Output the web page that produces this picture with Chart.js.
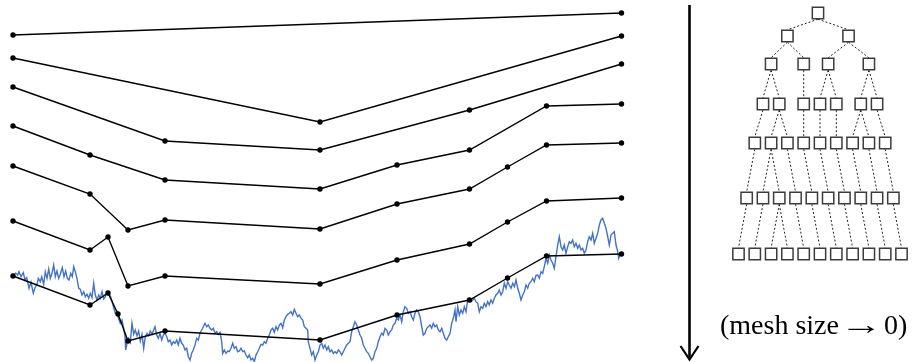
<!DOCTYPE html>
<html>
<head>
<meta charset="utf-8">
<script src="https://cdn.jsdelivr.net/npm/chart.js@4/dist/chart.umd.min.js"></script>
<style>
  html, body { margin: 0; padding: 0; background: #fff; }
  #wrap { position: relative; width: 918px; height: 362px; overflow: hidden; }
  #chart { position: absolute; left: 0; top: 0; }
  #caption {
    position: absolute; left: 720px; top: 309px;
    font-family: "Liberation Serif", "Times New Roman", serif;
    font-size: 28px; line-height: normal; color: #000; white-space: nowrap;
  }
  #caption .arrow { display: inline-block; width: 45px; text-align: center; }
  #caption .arrow span { display: inline-block; transform: scaleX(1.55); transform-origin: 50% 50%; }
</style>
</head>
<body>
<div id="wrap">
  <canvas id="chart" width="918" height="362"></canvas>
  <div id="caption">(mesh size<span class="arrow"><span>→</span></span>0)</div>
</div>
<script>
// Knot times shared by all refinement levels (time steps)
const knotTimes = [0, 77, 95, 105, 115, 152, 307, 384, 456.5, 494.5, 533.5, 608.5];

// Values of each piecewise-linear approximation at the knots (null = not a knot at this level)
const level0 = [24.1, null, null, null, null, null, null, null, null, null, null, 26.3];
const level1 = [21.8, null, null, null, null, null, 15.4, null, null, null, null, 24.0];
const level2 = [18.9, null, null, null, null, 13.5, 12.6, null, 16.6, null, null, 21.2];
const level3 = [15.0, 12.1, null, null, null, 9.6, 8.7, 11.1, 12.6, null, 17.0, 17.2];
const level4 = [11.0, 8.2, null, null, 4.6, 5.6, 4.7, 7.2, 8.7, 10.9, 13.1, 13.3];
const level5 = [5.5, 2.6, 3.9, null, -1.0, 0.0, -0.8, 1.6, 3.2, 5.4, 7.5, 7.8];
const level6 = [0.0, -2.9, -1.7, -3.8, -6.5, -5.5, -6.4, -3.9, -2.4, -0.2, 2.0, 2.2];
const levels = [level0, level1, level2, level3, level4, level5, level6];

// Sampled Brownian path [time step, value]
const pathSamples = [
  [0,0],[2.7,0.27],[4.7,0.1],[6,0.43],[8,-0.07],[10.3,0.33],[12,-0.4],[13.7,-0.17],[16,-1.23],[18,-0.63],
  [20.3,-1.73],[22,-1.17],[24,-0.83],[25.3,-0.23],[27.3,-0.57],[28.7,-0.07],[30.7,-0.83],[32.3,0.43],[34,-0.23],[35.7,0.7],
  [37.3,-0.23],[39,0.27],[40.7,1.1],[42.3,-0.07],[44,0.5],[45.7,-0.23],[47.3,0.17],[49.3,0.83],[51,-0.07],[52.7,0.5],
  [54.3,-0.23],[56,-0.4],[57.7,0.27],[59.3,-0.07],[60.7,0.93],[62.3,0.43],[64,-0.23],[65.7,-1.23],[67.3,-1.33],[69,-1.9],
  [70.7,-1.57],[72.3,-2.07],[74,-1.83],[75.7,-2.23],[77.3,-1.73],[79,-2.17],[80.7,-0.73],[82.3,-1.9],[84,-2.4],[85.7,-1.9],
  [87.3,-2.23],[89,-1.57],[90.7,-2.3],[92.3,-2.07],[94,-1.57],[95.7,-1.73],[97.3,-1.97],[99,-2.5],[100.7,-3.17],[102.3,-3.73],
  [104,-3.57],[105.7,-4.3],[107.3,-4.73],[109,-4.4],[110.7,-5.23],[112,-6.07],[112.7,-7.4],[114,-6.73],[115.7,-6.23],[117.3,-6.63],
  [119,-4.73],[120.7,-5.83],[122.3,-5.4],[124,-5.97],[125.7,-5.5],[127.3,-6.5],[129,-5.83],[130.7,-7.23],[132.3,-6.07],[134,-5.73],
  [135.7,-5.97],[137.3,-5.5],[139,-5.83],[140.7,-5.4],[142,-5.07],[143.7,-5.9],[145.3,-6.23],[147,-5.73],[148.7,-6.4],[150.3,-5.9],
  [152,-5.73],[153.7,-6.07],[155.3,-6.57],[157,-6.4],[158.7,-6.9],[160.3,-6.57],[162,-6.73],[163.7,-6.4],[165.3,-6.9],[167,-6.23],
  [168.7,-6.73],[170.3,-6.9],[172,-7.4],[173.7,-7.23],[175.3,-8.07],[177,-8.4],[178.7,-7.73],[180.3,-7.4],[182,-6.9],[183.7,-6.23],
  [185.3,-6.4],[187,-5.73],[188.7,-5.4],[190.3,-5.07],[192,-4.73],[193.7,-5.07],[195.3,-4.9],[197,-5.23],[198.7,-5.4],[200.3,-5.23],
  [202,-5.73],[203.7,-5.57],[205.3,-5.83],[207,-5.63],[208.7,-6.57],[209.7,-7.73],[211.3,-7.4],[213,-7.73],[214.7,-7.5],[216.3,-7.57],
  [218,-7.23],[219.7,-6.73],[221.3,-7.23],[223,-7.07],[224.7,-7.57],[226.3,-7.5],[228,-7.23],[229.7,-7.57],[231.3,-7.5],[233,-7.9],
  [234.7,-8.17],[236.3,-7.9],[238,-8.4],[239.7,-8.23],[241.3,-8.57],[243,-7.9],[244.7,-7.57],[246.3,-7.23],[248,-6.83],[249.7,-6.9],
  [251.3,-6.57],[253,-6.73],[254.7,-6.23],[256.3,-5.9],[258,-5.4],[259.7,-5.23],[261.3,-5.63],[263,-5.07],[264.7,-5.4],[266.3,-4.9],
  [268,-4.73],[269.7,-5.17],[271.3,-4.4],[273,-4.07],[274.7,-3.83],[276.3,-3.73],[278,-3.57],[279.7,-3.9],[281.3,-3.33],[283,-3.73],
  [284.7,-4.07],[286.3,-3.9],[288,-4.23],[289.7,-4.4],[291.3,-5.07],[293,-5.23],[294.7,-5.4],[295.3,-6.57],[297,-7.23],[298.7,-7.9],
  [300.3,-7.57],[302,-8.4],[303.7,-7.9],[305.3,-7.57],[307,-6.9],[308.7,-6.73],[310.3,-7.23],[312,-6.9],[313.7,-7.4],[315.3,-7.07],
  [317,-7.57],[318.7,-7.4],[320.3,-7.73],[322,-7.57],[323.7,-7.73],[325.3,-7.4],[327,-7.57],[328.7,-7.9],[330.3,-7.57],[332,-7.23],
  [333.7,-6.9],[335.3,-6.73],[337,-6.57],[338.7,-5.57],[340.3,-5.07],[342,-4.57],[343.7,-4.9],[345.3,-5.4],[347,-5.9],[348.7,-6.23],
  [350.3,-6.9],[352,-7.23],[353.7,-7.57],[355.3,-7.73],[357,-8.07],[358.7,-8.4],[360.3,-8.23],[362,-7.57],[363.7,-7.23],[365.3,-6.57],
  [367,-6.07],[368.7,-5.73],[370.3,-5.9],[372,-5.23],[373.7,-5.4],[375.3,-5.9],[377,-5.57],[378.7,-5.4],[380.3,-4.9],[382,-4.73],
  [383.7,-4.23],[385.3,-4.4],[387,-3.9],[388.7,-4.57],[390.3,-3.57],[392,-3.07],[393.7,-3.23],[395.3,-3.73],[397,-3.57],[398.7,-4.07],
  [400.3,-4.4],[402,-3.73],[403.7,-3.4],[405.3,-3.57],[407,-4.07],[408.7,-5.07],[410.3,-5.9],[412,-5.73],[413.7,-5.23],[415.3,-5.07],
  [417,-4.9],[418.7,-5.23],[420.3,-4.73],[422,-5.07],[423.7,-4.9],[425.3,-5.4],[427,-5.57],[428.7,-5.23],[430.3,-5.73],[432,-6.23],
  [433.7,-6.4],[435.3,-6.07],[437,-5.73],[438.7,-4.73],[440.3,-4.23],[442,-3.4],[443,-4.57],[444.7,-3.07],[446.3,-3.9],[448,-3.4],
  [449.7,-3.73],[451.3,-3.07],[453,-3.57],[454.7,-2.4],[456.3,-2.23],[458,-2.57],[459.7,-2.4],[461.3,-2.23],[463,-2.57],[464.7,-2.73],
  [466.3,-3.57],[468,-3.07],[469.7,-3.23],[471.3,-2.73],[473,-3.07],[474.7,-2.57],[476.3,-2.9],[478,-2.4],[479.7,-2.73],[481.3,-2.23],
  [483,-1.9],[484.7,-1.73],[486.3,-1.4],[488,-1.9],[489.7,-1.57],[491.3,-0.73],[493,-1.23],[494.7,-0.57],[496.3,-0.9],[498,-1.23],
  [499.7,-0.73],[501.3,-1.07],[503,-0.4],[504.7,-1.23],[506.3,-1.73],[508,-2.4],[509.7,-1.9],[511.3,-1.57],[513,-0.9],[514.7,-1.23],
  [516.3,-0.73],[518,-0.57],[519.7,-0.23],[521.3,-0.57],[523,0.07],[524.7,0.1],[526.3,-0.23],[528,0.43],[529.7,0.27],[531.3,0.93],
  [533,1.77],[534.7,1.27],[536.3,2.1],[538,1.6],[539.7,1.27],[541.3,0.77],[543,1.93],[544.7,3.1],[546.3,3.93],[548,2.93],
  [549.7,2.6],[551.3,3.1],[553,2.27],[554.7,2.93],[556.3,3.43],[558,3.27],[559.7,3.6],[561.3,2.93],[563,3.27],[564.7,2.77],
  [566.3,3.1],[568,2.6],[569.7,2.77],[571.3,2.27],[573,2.6],[574.7,3.43],[576.3,3.93],[578,3.6],[579.7,4.27],[581.3,3.27],
  [583,3.77],[584.7,4.27],[586.3,5.1],[588,5.6],[589.7,5.77],[591.3,5.27],[593,4.77],[594.7,3.93],[596.3,3.1],[598,4.1],
  [599.7,4.27],[601.3,4.43],[603,3.1],[604.7,2.43],[605.7,1.77],[607,2.1]
];

// ---- layout of the refinement tree (one box per knot interval) ----
const TREE_CENTER = 807;    // x of the tree axis, in time-step units
const TREE_PITCH = 16.3;    // spacing between neighbouring boxes
const BOX_HALF = 0.62;      // half box height in value units
const ROW_LAYOUT = ['mean', 'mean', 'mean', 'packed', 'even', 'even', 'even'];

function buildTree() {
  const rows = levels.map(vals => {
    const pts = knotTimes.map((t, i) => ({ t, v: vals[i] })).filter(p => p.v !== null);
    const boxes = [];
    for (let i = 0; i < pts.length - 1; i++) boxes.push({ a: pts[i].t, b: pts[i + 1].t });
    return { y: pts[pts.length - 1].v, boxes };
  });
  for (let k = 1; k < rows.length; k++) {
    rows[k].boxes.forEach(b => {
      b.parent = rows[k - 1].boxes.findIndex(p => b.a >= p.a && b.b <= p.b);
    });
  }
  const last = rows.length - 1;
  for (let k = last; k >= 0; k--) {
    const row = rows[k];
    const n = row.boxes.length;
    const kids = i => (k < last ? rows[k + 1].boxes.filter(c => c.parent === i).map(c => c.x) : []);
    const mode = ROW_LAYOUT[k];
    if (mode === 'even') {
      row.boxes.forEach((b, i) => { b.x = TREE_CENTER + (i - (n - 1) / 2) * TREE_PITCH; });
    } else if (mode === 'mean') {
      row.boxes.forEach((b, i) => { const xs = kids(i); b.x = xs.reduce((s, x) => s + x, 0) / xs.length; });
    } else {
      // siblings sit side by side, centred over the span of their children
      const groups = {};
      row.boxes.forEach((b, i) => { (groups[b.parent] = groups[b.parent] || []).push(i); });
      Object.values(groups).forEach(ids => {
        const xs = ids.flatMap(kids);
        const c = (Math.min(...xs) + Math.max(...xs)) / 2;
        ids.forEach((i, m) => { row.boxes[i].x = c + (m - (ids.length - 1) / 2) * TREE_PITCH; });
      });
    }
  }
  return rows;
}

const tree = buildTree();
const boxPoints = [];
const edgePoints = [];
tree.forEach((row, k) => {
  row.boxes.forEach(b => {
    boxPoints.push({ x: b.x, y: row.y });
    if (k > 0) {
      const parentRow = tree[k - 1];
      const p = parentRow.boxes[b.parent];
      edgePoints.push({ x: p.x, y: parentRow.y - BOX_HALF });
      edgePoints.push({ x: b.x, y: row.y + BOX_HALF });
      edgePoints.push({ x: b.x, y: null });
    }
  });
});

// downward arrow between the paths and the tree
const arrowPlugin = {
  id: 'refineArrow',
  afterDatasetsDraw(chart) {
    const ctx = chart.ctx;
    const x = 689.5, top = 5, tip = 359.5;
    ctx.save();
    ctx.strokeStyle = '#000';
    ctx.lineWidth = 2.6;
    ctx.beginPath();
    ctx.moveTo(x, top);
    ctx.lineTo(x, tip - 1);
    ctx.stroke();
    ctx.lineWidth = 2.2;
    ctx.lineJoin = 'miter';
    ctx.beginPath();
    ctx.moveTo(x - 9, tip - 13.5);
    ctx.lineTo(x, tip);
    ctx.lineTo(x + 9, tip - 13.5);
    ctx.stroke();
    ctx.restore();
  }
};

const levelDatasets = levels.map(vals => ({
  data: knotTimes.map((t, i) => ({ x: t, y: vals[i] })).filter(p => p.y !== null),
  borderColor: '#000',
  borderWidth: 1.4,
  pointRadius: 2.7,
  pointBorderWidth: 0,
  pointBackgroundColor: '#000',
  order: 0
}));

new Chart(document.getElementById('chart'), {
  type: 'line',
  data: {
    datasets: [
      ...levelDatasets,
      {
        data: pathSamples.map(([t, v]) => ({ x: t, y: v })),
        borderColor: '#4472C4',
        borderWidth: 1.4,
        pointRadius: 0,
        order: 2
      },
      {
        data: boxPoints,
        showLine: false,
        pointStyle: 'rect',
        pointRadius: 8,
        pointBackgroundColor: '#fff',
        pointBorderColor: '#3c3c3c',
        pointBorderWidth: 1.5,
        order: 0
      },
      {
        data: edgePoints,
        borderColor: '#222',
        borderWidth: 1,
        borderDash: [2, 2],
        pointRadius: 0,
        spanGaps: false,
        order: 1
      }
    ]
  },
  options: {
    responsive: false,
    animation: false,
    events: [],
    layout: { padding: 0, autoPadding: false },
    elements: { line: { tension: 0, borderCapStyle: 'butt' } },
    plugins: { legend: { display: false }, tooltip: { enabled: false }, title: { display: false } },
    scales: {
      x: { type: 'linear', display: false, min: -13, max: 905 },
      y: { type: 'linear', display: false, min: -8.6, max: 27.6 }
    }
  },
  plugins: [arrowPlugin]
});
</script>
</body>
</html>
